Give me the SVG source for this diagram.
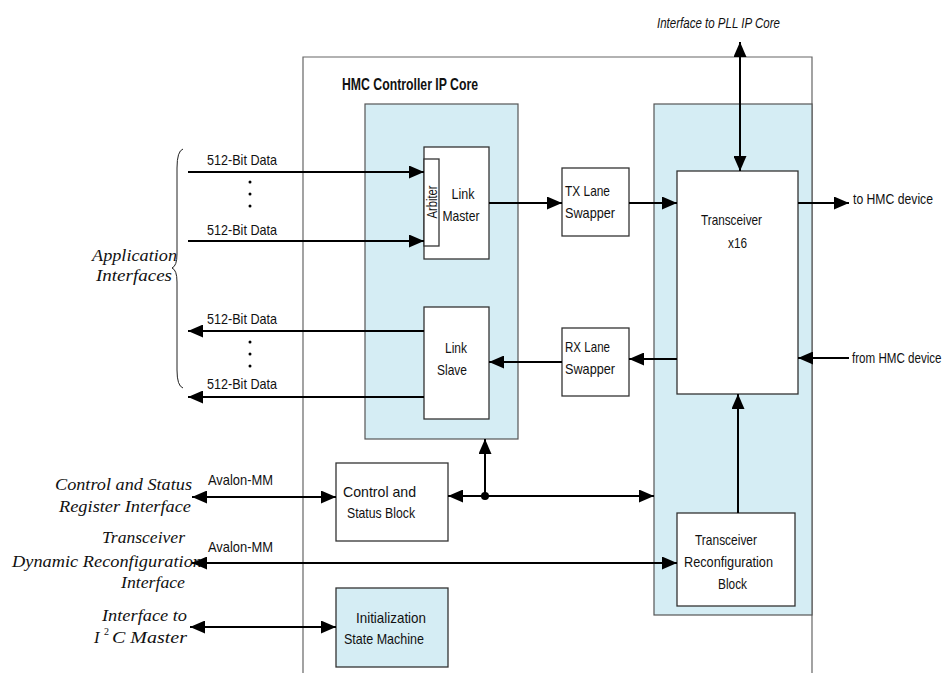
<svg xmlns="http://www.w3.org/2000/svg" width="949" height="673" viewBox="0 0 949 673">
<defs>
<marker id="ah" markerUnits="userSpaceOnUse" markerWidth="15" markerHeight="13" refX="15" refY="6.5" orient="auto-start-reverse">
<path d="M0,0 L15,6.5 L0,13 z" fill="#000"/>
</marker>
<style>
.frame{fill:none;stroke:#666;stroke-width:1.2}
.blue{fill:#d5edf4;stroke:#555;stroke-width:1.2}
.box{fill:#fff;stroke:#333;stroke-width:1.3}
.bbox{fill:#d5edf4;stroke:#333;stroke-width:1.3}
.c{fill:none;stroke:#000;stroke-width:2}
.a{marker-end:url(#ah)}
.aa{marker-start:url(#ah);marker-end:url(#ah)}
.s{font-family:"Liberation Sans Narrow","Liberation Sans",Arial,sans-serif;font-size:14.5px;fill:#111}
.m{text-anchor:middle}
.t{font-family:"Liberation Serif","Times New Roman",serif;font-style:italic;font-size:16.5px;fill:#111;text-anchor:end}
.it{font-family:"Liberation Sans Narrow","Liberation Sans",Arial,sans-serif;font-style:italic;font-size:14px;fill:#111}
.dot{fill:#000}
</style>
</defs>
<rect width="949" height="673" fill="#fff"/>

<g id="core">
<path class="frame" d="M303,673 L303,57 L812,57 L812,673"/>
<text x="342" y="90" font-family="Liberation Sans Narrow,Liberation Sans,Arial,sans-serif" font-weight="bold" font-size="17" fill="#111" textLength="136" lengthAdjust="spacingAndGlyphs">HMC Controller IP Core</text>
</g>

<g id="link-group"><rect class="blue" x="365" y="104" width="153" height="335"/></g>
<g id="transceiver-group"><rect class="blue" x="654" y="104" width="158" height="511"/></g>

<g id="link-master">
<rect class="box" x="424" y="147" width="65" height="112"/>
<text class="s m" x="463" y="199" textLength="23" lengthAdjust="spacingAndGlyphs">Link</text>
<text class="s m" x="461" y="221" textLength="37" lengthAdjust="spacingAndGlyphs">Master</text>
</g>
<g id="arbiter">
<rect class="box" x="424" y="159" width="15" height="87"/>
<text class="s m" transform="translate(436.5,202) rotate(-90)" x="0" y="0" textLength="33" lengthAdjust="spacingAndGlyphs">Arbiter</text>
</g>
<g id="link-slave">
<rect class="box" x="424" y="307" width="65" height="112"/>
<text class="s m" x="456" y="353" textLength="22" lengthAdjust="spacingAndGlyphs">Link</text>
<text class="s m" x="452" y="375" textLength="30" lengthAdjust="spacingAndGlyphs">Slave</text>
</g>
<g id="tx-lane-swapper">
<rect class="box" x="562" y="168" width="67" height="68"/>
<text class="s" x="565" y="196" textLength="45" lengthAdjust="spacingAndGlyphs">TX Lane</text>
<text class="s" x="565" y="218" textLength="50" lengthAdjust="spacingAndGlyphs">Swapper</text>
</g>
<g id="rx-lane-swapper">
<rect class="box" x="562" y="328" width="67" height="68"/>
<text class="s" x="565" y="352" textLength="45" lengthAdjust="spacingAndGlyphs">RX Lane</text>
<text class="s" x="565" y="374" textLength="50" lengthAdjust="spacingAndGlyphs">Swapper</text>
</g>
<g id="transceiver">
<rect class="box" x="677" y="171" width="121" height="223"/>
<text class="s m" x="731.5" y="225" textLength="61" lengthAdjust="spacingAndGlyphs">Transceiver</text>
<text class="s m" x="737.5" y="248" textLength="19" lengthAdjust="spacingAndGlyphs">x16</text>
</g>
<g id="reconfig-block">
<rect class="box" x="677" y="513" width="118" height="93"/>
<text class="s m" x="726" y="545" textLength="62" lengthAdjust="spacingAndGlyphs">Transceiver</text>
<text class="s m" x="728.5" y="567" textLength="89" lengthAdjust="spacingAndGlyphs">Reconfiguration</text>
<text class="s m" x="732.5" y="589" textLength="29" lengthAdjust="spacingAndGlyphs">Block</text>
</g>
<g id="csr-block">
<rect class="box" x="336" y="463" width="112" height="78"/>
<text class="s m" x="379.5" y="497" textLength="73" lengthAdjust="spacingAndGlyphs">Control and</text>
<text class="s m" x="381" y="518" textLength="68" lengthAdjust="spacingAndGlyphs">Status Block</text>
</g>
<g id="init-sm">
<rect class="bbox" x="336" y="588" width="112" height="79"/>
<text class="s m" x="391" y="623" textLength="70" lengthAdjust="spacingAndGlyphs">Initialization</text>
<text class="s m" x="384" y="644" textLength="80" lengthAdjust="spacingAndGlyphs">State Machine</text>
</g>

<g id="app-interfaces">
<text class="t" x="177" y="261" textLength="85" lengthAdjust="spacingAndGlyphs">Application</text>
<text class="t" x="172" y="281" textLength="76" lengthAdjust="spacingAndGlyphs">Interfaces</text>
<path d="M183,149 Q177,151 177,168 L177,254 Q177,266 172,268 Q177,270 177,282 L177,370 Q177,386 183,388" fill="none" stroke="#222" stroke-width="1"/>
</g>
<g id="csr-interface">
<text class="t" x="192" y="490" textLength="137" lengthAdjust="spacingAndGlyphs">Control and Status</text>
<text class="t" x="191" y="512" textLength="132" lengthAdjust="spacingAndGlyphs">Register Interface</text>
</g>
<g id="reconfig-interface">
<text class="t" x="185" y="543" textLength="83" lengthAdjust="spacingAndGlyphs">Transceiver</text>
<text x="12" y="567" font-family="Liberation Serif,Times New Roman,serif" font-style="italic" font-size="16.5" fill="#111" textLength="190" lengthAdjust="spacingAndGlyphs">Dynamic Reconfiguration</text>
<text class="t" x="185" y="588" textLength="64" lengthAdjust="spacingAndGlyphs">Interface</text>
</g>
<g id="i2c-interface">
<text class="t" x="187" y="621" textLength="85" lengthAdjust="spacingAndGlyphs">Interface to</text>
<text x="94" y="643" font-family="Liberation Serif,Times New Roman,serif" font-style="italic" font-size="16.5" fill="#111">I</text>
<text x="104" y="635" font-family="Liberation Serif,Times New Roman,serif" font-size="10" fill="#111">2</text>
<text class="t" x="187" y="643" textLength="75" lengthAdjust="spacingAndGlyphs">C Master</text>
</g>
<g id="pll-interface">
<text class="it" x="657" y="28" textLength="123" lengthAdjust="spacingAndGlyphs">Interface to PLL IP Core</text>
</g>

<g id="connectors">
<path class="c a" d="M188,172 H424"/>
<path class="c a" d="M188,241 H424"/>
<path class="c a" d="M424,331 H188"/>
<path class="c a" d="M424,397 H188"/>
<path class="c a" d="M489,203 H562"/>
<path class="c a" d="M629,203 H677"/>
<path class="c a" d="M677,359 H629"/>
<path class="c a" d="M562,362 H489"/>
<path class="c aa" d="M740,42 V171"/>
<path class="c a" d="M798,203 H849"/>
<path class="c a" d="M849,358 H798"/>
<path class="c a" d="M738,513 V394"/>
<path class="c aa" d="M192,497 H336"/>
<path class="c a" d="M485,496 H448"/>
<path class="c a" d="M485,496 V439"/>
<path class="c a" d="M485,496 H654"/>
<circle class="dot" cx="485" cy="496" r="4"/>
<path class="c aa" d="M192,563 H677"/>
<path class="c aa" d="M190,627 H336"/>
<text class="s" x="207" y="165" textLength="70" lengthAdjust="spacingAndGlyphs">512-Bit Data</text>
<text class="s" x="207" y="235" textLength="70" lengthAdjust="spacingAndGlyphs">512-Bit Data</text>
<text class="s" x="207" y="324" textLength="70" lengthAdjust="spacingAndGlyphs">512-Bit Data</text>
<text class="s" x="207" y="389" textLength="70" lengthAdjust="spacingAndGlyphs">512-Bit Data</text>
<circle class="dot" cx="250" cy="182" r="1.5"/>
<circle class="dot" cx="250" cy="194" r="1.5"/>
<circle class="dot" cx="250" cy="206" r="1.5"/>
<circle class="dot" cx="250" cy="342" r="1.5"/>
<circle class="dot" cx="250" cy="354" r="1.5"/>
<circle class="dot" cx="250" cy="366" r="1.5"/>
<text class="s" x="208" y="485" textLength="65" lengthAdjust="spacingAndGlyphs">Avalon-MM</text>
<text class="s" x="208" y="552" textLength="65" lengthAdjust="spacingAndGlyphs">Avalon-MM</text>
<text class="s" x="853" y="204" textLength="80" lengthAdjust="spacingAndGlyphs">to HMC device</text>
<text class="s" transform="translate(852,363) scale(0.8,1)" x="0" y="0">from HMC device</text>
</g>
</svg>
